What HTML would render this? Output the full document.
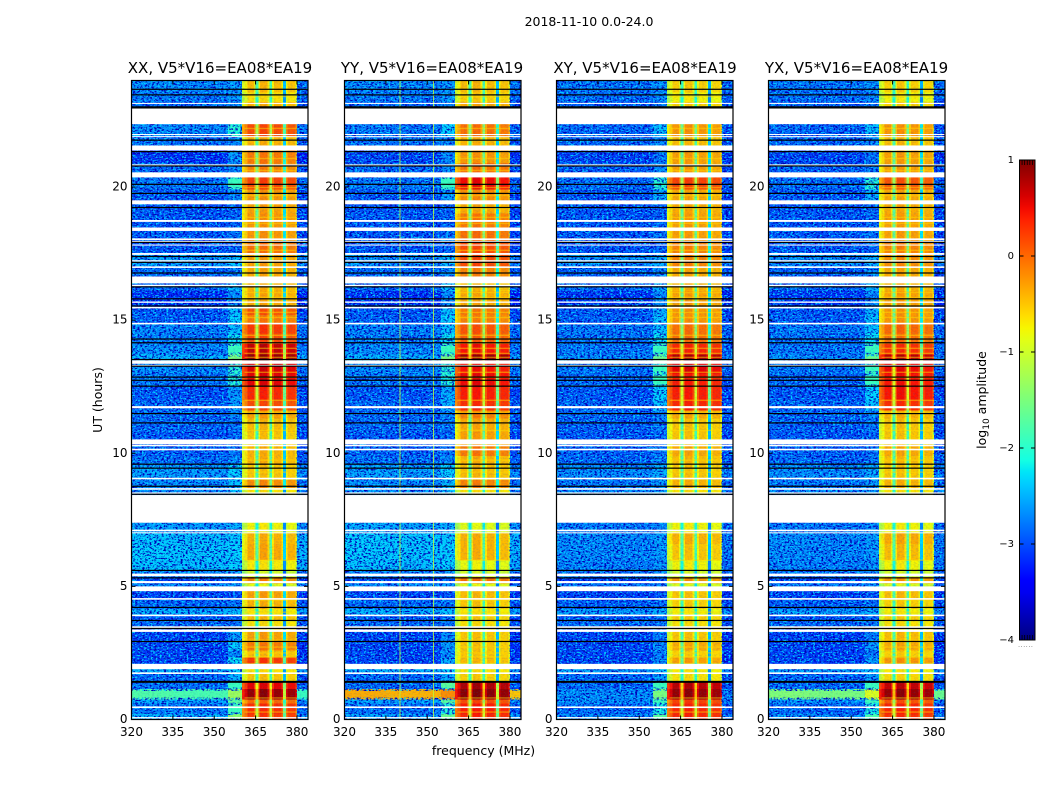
<!DOCTYPE html>
<html>
<head>
<meta charset="utf-8">
<title>2018-11-10 spectrogram</title>
<style>
html,body{margin:0;padding:0;background:#fff;}
svg{display:block;}
text{font-family:"DejaVu Sans","Liberation Sans",sans-serif;fill:#000;}
</style>
</head>
<body>
<svg id="chart" xmlns="http://www.w3.org/2000/svg" width="1050" height="800" viewBox="0 0 1050 800">
  <defs>
    <filter id="speckle-dark" x="0" y="0" width="1" height="1" color-interpolation-filters="sRGB">
      <feTurbulence type="fractalNoise" baseFrequency="0.42 0.62" numOctaves="2" seed="3"/>
      <feColorMatrix values="0 0 0 0 0  0 0 0 0 0  0 0 0 0 .72  6 0 0 0 -2.85"/>
    </filter>
    <filter id="speckle-light" x="0" y="0" width="1" height="1" color-interpolation-filters="sRGB">
      <feTurbulence type="fractalNoise" baseFrequency="0.45 0.65" numOctaves="2" seed="11"/>
      <feColorMatrix values="0 0 0 0 0  0 0 0 0 .8  0 0 0 0 1  6 0 0 0 -3.15"/>
    </filter>
    <linearGradient id="jet-gradient" x1="0" y1="1" x2="0" y2="0"></linearGradient>
  </defs>
  <text x="589" y="26" text-anchor="middle" font-size="12.5">2018-11-10 0.0-24.0</text>
  <text x="483.5" y="755" text-anchor="middle" font-size="12.5">frequency (MHz)</text>
  <text transform="translate(102 400) rotate(-90)" text-anchor="middle" font-size="12.5">UT (hours)</text>
  <g id="panels"></g>
  <g id="colorbar"></g>
  <text transform="translate(986 400) rotate(-90)" text-anchor="middle" font-size="12.5">log<tspan font-size="9" dy="3">10</tspan><tspan dy="-3"> amplitude</tspan></text>
</svg>
<script>
// ---- Axis data ----
const panelTitles = ["XX, V5*V16=EA08*EA19", "YY, V5*V16=EA08*EA19", "XY, V5*V16=EA08*EA19", "YX, V5*V16=EA08*EA19"];
const freqTicks = [320, 335, 350, 365, 380];
const hourTicks = [0, 5, 10, 15, 20];
const colorTicks = [1, 0, -1, -2, -3, -4];

// ---- Time rows (UT hours) ----
const rowEdges = [0,.2,.6,.75,1.15,1.42,1.72,1.9,2.1,2.32,2.6,2.9,3.3,3.45,3.7,3.95,4.15,4.53,4.82,5.1,5.35,5.6,6,6.6,7,7.39,8.43,8.7,9,9.55,9.9,10.3,10.8,11.3,11.6,12,12.5,13,13.4,13.7,14.1,14.5,14.9,15.2,15.5,16.1,16.4,17,17.5,18,18.5,19,19.4,19.9,20.4,20.9,21.4,21.9,22.3,22.4,22.95,23.2,23.55,24];

// ---- Frequency channels (MHz) ----
const channelEdges = [320,335,350,355,360,361,362,364.4,365,366,366.6,369.4,370,371,371.6,374.4,375,376,376.6,379.4,380,384];
const channelBand = ["low","low","low","trans","high","high","high","high","high","high","high","high","high","high","high","high","high","high","high","high","low"];
const channelOffset = [-.06,-.1,-.1,0,-.45,-.25,.05,-.25,-1.3,-.2,.1,-.2,-1.3,-.25,.05,-.25,-1.9,-.3,0,-.3,-.2];

// ---- log10 amplitude per row ----
const xxLow = [-2.4,-2.7,-2.5,-1.7,-2.75,-2.8,-2.4,-3,-3,-3,
-3,-3,-3,-2.8,-2.9,-2.4,-2.8,-3,-2.6,-3,
-2.6,-2.3,-2.25,-2.3,-2.5,-3,-2.6,-2.6,-2.5,-2.75,
-2.85,-2.9,-2.8,-2.8,-2.8,-2.9,-2.7,-2.6,-2.4,-2.6,
-2.7,-2.65,-2.85,-2.9,-3.1,-2.8,-2.8,-2.5,-2.9,-2.9,
-2.9,-2.9,-2.9,-2.7,-2.8,-3.1,-2.75,-2.6,-2.6,-3,
-2.8,-2.7,-2.6];
const xxTrans = [-1.4,-1.9,-1.7,-1.3,-1.9,-2.5,-2.3,-3,-2.2,-2.7,
-2.3,-2.6,-3,-2.8,-2.9,-2.4,-2.8,-3,-2.6,-3,
-2.6,-2.3,-2.3,-2.35,-2.5,-3,-2.4,-2.4,-2.3,-2.7,
-2.8,-2.9,-2.8,-2.7,-2.6,-2.6,-2,-2,-1.5,-1.9,
-2.2,-2.4,-2.3,-2.4,-2.7,-2.4,-2.7,-2.4,-2.9,-2.8,
-2.9,-2.9,-2.7,-1.9,-2.7,-2.6,-2.7,-2,-2,-3,
-2.7,-2.6,-2.6];
const xxHigh = [.2,.25,-.05,.85,.5,-.55,-.7,-1,.2,-.5,
-.15,-.35,-.6,-.7,-.5,-.75,-.45,-.35,-.9,-.2,
-1,-.75,-.4,-.45,-.8,-1,-.7,-.25,-.55,-.45,
-.45,-.55,-.5,-.35,.1,.3,.5,.55,.85,.65,
.1,.2,-.15,.05,-.4,-.45,-.4,-.35,-.1,-.3,
-.3,-.35,-.3,.15,-.2,-.15,-.45,.1,.1,-1,
-.45,-.7,-.5];

const yyLow = [-2.5,-2.75,-2.5,-.3,-2.8,-2.8,-2.4,-3,-3,-3,
-3,-3,-3,-2.8,-2.9,-2.4,-2.8,-3,-2.6,-3,
-2.6,-2.3,-2.25,-2.25,-2.45,-3,-2.6,-2.6,-2.5,-2.75,
-2.85,-2.9,-2.8,-2.8,-2.8,-2.9,-2.7,-2.6,-2.4,-2.6,
-2.7,-2.65,-2.85,-2.9,-3.1,-2.8,-2.8,-2.6,-2.9,-2.9,
-2.9,-2.9,-2.9,-2.7,-2.8,-3,-2.75,-2.7,-2.7,-3,
-2.8,-2.7,-2.6];
const yyTrans = [-1.6,-2,-1.7,-.2,-1.7,-2.5,-2.3,-3,-2.5,-2.7,
-2.6,-2.7,-3,-2.8,-2.9,-2.4,-2.8,-3,-2.6,-3,
-2.6,-2.3,-2.3,-2.35,-2.5,-3,-2.4,-2.4,-2.3,-2.7,
-2.8,-2.9,-2.8,-2.7,-2.5,-2.5,-2,-2,-1.5,-1.9,
-2.2,-2.4,-2.3,-2.4,-2.7,-2.4,-2.7,-2.4,-2.9,-2.8,
-2.9,-2.9,-2.6,-1.9,-2.7,-2.7,-2.7,-2.3,-2.3,-3,
-2.7,-2.6,-2.6];
const yyHigh = [.3,.35,.1,.9,.75,-.6,-.7,-1,-.5,-.55,
-.55,-.55,-.6,-.7,-.6,-.75,-.55,-.5,-.9,-.1,
-1,-.85,-.45,-.45,-.9,-1,-.7,-.2,-.5,-.45,
-.15,-.35,-.4,-.2,.25,.35,.45,.4,.85,.4,
0,.05,-.2,-.15,-.4,-.5,-.2,.1,.1,-.1,
-.15,-.4,-.25,.45,-.1,-.3,-.45,-.1,-.1,-1,
-.4,-.6,-.5];

const xyLow = [-2.6,-2.8,-2.6,-2.6,-2.8,-2.8,-2.5,-3,-3,-3,
-3,-3,-3,-2.8,-2.9,-2.5,-2.85,-3,-2.7,-3,
-2.7,-2.65,-2.6,-2.6,-2.7,-3,-2.6,-2.7,-2.6,-2.8,
-2.85,-2.9,-2.85,-2.8,-2.8,-2.9,-2.8,-2.7,-2.6,-2.7,
-2.75,-2.7,-2.85,-2.9,-3.05,-2.8,-2.85,-2.6,-2.9,-2.9,
-2.9,-2.9,-2.9,-2.75,-2.85,-3,-2.8,-2.8,-2.8,-3,
-2.85,-2.75,-2.7];
const xyTrans = [-1.7,-2.1,-1.9,-1.5,-1.9,-2.6,-2.4,-3,-2.7,-2.8,
-2.7,-2.8,-3,-2.8,-2.9,-2.5,-2.85,-3,-2.7,-3,
-2.7,-2.65,-2.6,-2.6,-2.7,-3,-2.6,-2.6,-2.5,-2.75,
-2.8,-2.9,-2.8,-2.7,-2.4,-2.3,-1.9,-1.9,-1.6,-1.9,
-2.2,-2.4,-2.4,-2.5,-2.7,-2.5,-2.7,-2.5,-2.9,-2.8,
-2.9,-2.9,-2.5,-2,-2.7,-2.8,-2.7,-2.4,-2.4,-3,
-2.75,-2.7,-2.65];
const xyHigh = [.3,.3,.15,.85,.7,-.7,-.75,-1,-.35,-.6,
-.4,-.55,-.65,-.7,-.6,-.8,-.6,-.55,-.95,-.3,
-1,-.8,-.55,-.45,-.8,-1,-.7,-.45,-.55,-.5,
-.4,-.55,-.55,-.4,.3,.35,.35,.5,.75,.3,
-.1,-.1,-.3,-.3,-.35,-.45,-.4,-.2,-.2,-.35,
-.35,-.4,-.4,.15,-.35,-.35,-.5,-.3,-.3,-1,
-.6,-.8,-.6];

const yxLow = [-2.6,-2.8,-2.6,-1.4,-2.8,-2.8,-2.5,-3,-3,-3,
-3,-3,-3,-2.8,-2.9,-2.5,-2.85,-3,-2.7,-3,
-2.7,-2.65,-2.6,-2.6,-2.7,-3,-2.6,-2.7,-2.6,-2.8,
-2.85,-2.9,-2.85,-2.8,-2.8,-2.9,-2.8,-2.7,-2.6,-2.7,
-2.75,-2.7,-2.85,-2.9,-3.05,-2.8,-2.85,-2.6,-2.9,-2.9,
-2.9,-2.9,-2.9,-2.75,-2.85,-3,-2.8,-2.8,-2.8,-3,
-2.85,-2.75,-2.7];
const yxTrans = [-1.8,-2.1,-1.9,-.9,-1.9,-2.6,-2.4,-3,-2.6,-2.8,
-2.6,-2.8,-3,-2.8,-2.9,-2.5,-2.85,-3,-2.7,-3,
-2.7,-2.65,-2.6,-2.6,-2.7,-3,-2.6,-2.6,-2.5,-2.75,
-2.8,-2.9,-2.8,-2.7,-2.4,-2.3,-1.9,-1.9,-1.6,-1.9,
-2.2,-2.4,-2.4,-2.5,-2.7,-2.5,-2.7,-2.5,-2.9,-2.8,
-2.9,-2.9,-2.5,-2,-2.7,-2.8,-2.7,-2.4,-2.4,-3,
-2.75,-2.7,-2.65];
const yxHigh = [.25,.3,.05,.85,.65,-.65,-.75,-1,-.3,-.6,
-.4,-.5,-.65,-.7,-.6,-.8,-.6,-.5,-.95,-.3,
-1,-.8,-.5,-.4,-.8,-1,-.7,-.45,-.55,-.5,
-.4,-.55,-.55,-.45,.25,.4,.4,.45,.7,.25,
-.1,-.05,-.3,-.3,-.35,-.45,-.4,-.25,-.2,-.35,
-.35,-.4,-.4,.05,-.35,-.35,-.5,-.3,-.3,-1,
-.6,-.8,-.6];

// ---- Flagged (blank) and zero-amplitude (black) time ranges, UT hours ----
const flaggedStart = [.04,.43,1.71,1.89,3.29,3.43,3.88,4.5,4.82,5.12,5.38,7,7.07,7.39,8.48,8.63,9.02,10.11,10.26,10.34,11.69,13.27,13.36,14.84,15.44,15.65,16.27,16.38,16.96,17.2,17.45,17.8,17.93,18.01,18.35,18.69,19.35,20.36,20.8,21.37,21.87,21.95,22.36,23.12];
const flaggedEnd = [.09,.49,1.77,2.09,3.38,3.5,3.94,4.56,5,5.2,5.48,7.03,7.13,8.43,8.53,8.69,9.08,10.17,10.32,10.52,11.77,13.32,13.49,14.9,15.5,15.7,16.33,16.64,17.02,17.25,17.52,17.84,17.98,18.07,18.48,18.76,19.5,20.55,20.85,21.56,21.91,21.99,22.95,23.16];
const blackHours = [1.4,1.43,2.93,3.42,3.72,4.21,5.32,5.6,8.46,8.76,9.44,9.59,11.14,11.49,12.52,12.74,12.86,13.27,13.52,14.15,14.29,15.53,15.8,16.25,16.77,17.17,17.39,17.92,19.23,19.76,20.1,20.79,21.33,21.76,22.97,23.01,23.46,23.67];

// ---- Times where the high band dips to yellow across all channels ----
const dipHours = [.28,.81,2.35,2.5,2.72,2.98,4.03,4.48,5.98,9.29,9.74,10.86,11.54,11.99,12.85,13.04,13.6,13.75,13.94,14.43,15.1,15.29,15.48,15.85,16.04,17.62,18.63,18.86,19.19,19.68,19.98,20.62,21.07,21.75,22.2,23.4];

// ---- Narrow interference channels in YY ----
const yyRfiFreqs = [340, 352];
const yyRfiLevel = -1.1;

const panelLow = [xxLow, yyLow, xyLow, yxLow];
const panelTrans = [xxTrans, yyTrans, xyTrans, yxTrans];
const panelHigh = [xxHigh, yyHigh, xyHigh, yxHigh];

// ---- Scales ----
const NS = "http://www.w3.org/2000/svg";
const panelLeft = [131.5, 344.5, 556.5, 768.5];
const panelWidth = 176.5;
const titleCenter = [220, 432, 645, 856.5];
const plotTop = 80.5, plotBottom = 719.5;
function xScale(p, f) { return panelLeft[p] + (f - 320) * panelWidth / 64; }
function yScale(h) { return plotBottom - h * (plotBottom - plotTop) / 24; }
function cScale(v) { return 640 - (v + 4) * 96; }
function interp(pts, t) {
  for (let i = 1; i < pts.length; i++) {
    if (t <= pts[i][0]) {
      const a = pts[i - 1], b = pts[i];
      return a[1] + (b[1] - a[1]) * (t - a[0]) / (b[0] - a[0]);
    }
  }
  return pts[pts.length - 1][1];
}
const jetR = [[0,0],[.35,0],[.66,1],[.89,1],[1,.5]];
const jetG = [[0,0],[.125,0],[.375,1],[.64,1],[.91,0],[1,0]];
const jetB = [[0,.5],[.11,1],[.34,1],[.65,0],[1,0]];
function jet(t) {
  t = Math.max(0, Math.min(1, t));
  return "rgb(" + Math.round(255 * interp(jetR, t)) + "," + Math.round(255 * interp(jetG, t)) + "," + Math.round(255 * interp(jetB, t)) + ")";
}
function colorOf(v) { return jet((v + 4) / 5); }
function mk(tag, attrs, parent) {
  const el = document.createElementNS(NS, tag);
  for (const k in attrs) el.setAttribute(k, attrs[k]);
  parent.appendChild(el);
  return el;
}

const root = document.getElementById("panels");
panelTitles.forEach(function (title, p) {
  const g = mk("g", {}, root);
  
  
  const series = { low: panelLow[p], trans: panelTrans[p], high: panelHigh[p] };

  // heatmap cells
  for (let r = 0; r < rowEdges.length - 1; r++) {
    for (let c = 0; c < channelEdges.length - 1; c++) {
      const x0 = xScale(p, channelEdges[c]), x1 = xScale(p, channelEdges[c + 1]);
      const y0 = yScale(rowEdges[r + 1]), y1 = yScale(rowEdges[r]);
      const v = series[channelBand[c]][r] + channelOffset[c];
      const cell = mk("rect", { x: x0, y: y0, width: x1 - x0, height: y1 - y0, fill: colorOf(v), "shape-rendering": "crispEdges" }, g);
      
      
    }
  }

  // channel speckle texture
  [[320, 355, 1], [355, 360, 0.9], [360, 380, 0.08], [380, 384, 1]].forEach(function (seg) {
    ["speckle-dark", "speckle-light"].forEach(function (f) {
      const sp = mk("rect", { x: xScale(p, seg[0]), y: plotTop, width: xScale(p, seg[1]) - xScale(p, seg[0]), height: plotBottom - plotTop, filter: "url(#" + f + ")", opacity: seg[2] }, g);
      
      
    });
  });

  // bright out-of-band rows sit above the speckle
  for (let r = 0; r < rowEdges.length - 1; r++) {
    for (let c = 0; c < channelEdges.length - 1; c++) {
      if (channelBand[c] === "high") continue;
      const v = series[channelBand[c]][r] + channelOffset[c];
      if (v <= -1.95) continue;
      const x0 = xScale(p, channelEdges[c]), x1 = xScale(p, channelEdges[c + 1]);
      const y0 = yScale(rowEdges[r + 1]), y1 = yScale(rowEdges[r]);
      const cell = mk("rect", { x: x0, y: y0 + (y1 - y0) * 0.2, width: x1 - x0, height: (y1 - y0) * 0.6, fill: colorOf(v), opacity: 0.9, "shape-rendering": "crispEdges" }, g);
      
      
    }
  }

  // yellow dips across the high band
  dipHours.forEach(function (h) {
    const dip = mk("rect", { x: xScale(p, 361), y: yScale(h) - 0.7, width: xScale(p, 380) - xScale(p, 361), height: 1.4, fill: "#ffd800", opacity: 0.5 }, g);
    
    
  });

  // interference lines in YY
  if (p === 1) {
    yyRfiFreqs.forEach(function (f) {
      const line = mk("rect", { x: xScale(p, f), y: plotTop, width: 1, height: plotBottom - plotTop, fill: colorOf(yyRfiLevel), opacity: 0.8, "shape-rendering": "crispEdges" }, g);
      
      
    });
  }

  // flagged rows
  flaggedStart.forEach(function (s, i) {
    const y0 = yScale(flaggedEnd[i]), y1 = yScale(s);
    const band = mk("rect", { x: panelLeft[p], y: y0, width: panelWidth, height: Math.max(1, y1 - y0), fill: "#fff" }, g);
    
    
  });

  // black rows
  blackHours.forEach(function (h) {
    const line = mk("rect", { x: panelLeft[p], y: yScale(h) - 0.6, width: panelWidth, height: 1.2, fill: "#000" }, g);
    
    
  });

  // frame
  const frame = mk("rect", { x: panelLeft[p], y: plotTop, width: panelWidth, height: plotBottom - plotTop, fill: "none", stroke: "#000", "stroke-width": 1.2 }, g);
  
  

  // title
  const t = mk("text", { x: titleCenter[p], y: 73, "text-anchor": "middle", "font-size": 15 }, g);
  t.textContent = title;
  
  

  // x ticks
  freqTicks.forEach(function (f) {
    const x = xScale(p, f);
    mk("path", { d: "M" + x + " " + plotBottom + "v-4M" + x + " " + plotTop + "v4", stroke: "#000", "stroke-width": 1, fill: "none" }, g);
    const lab = mk("text", { x: x, y: 736, "text-anchor": "middle", "font-size": 12 }, g);
    lab.textContent = f;
    
    
  });

  // y ticks
  hourTicks.forEach(function (h) {
    const y = yScale(h);
    mk("path", { d: "M" + panelLeft[p] + " " + y + "h4M" + (panelLeft[p] + panelWidth) + " " + y + "h-4", stroke: "#000", "stroke-width": 1, fill: "none" }, g);
    const lab = mk("text", { x: panelLeft[p] - 4, y: y + 3.5, "text-anchor": "end", "font-size": 12 }, g);
    lab.textContent = h;
    
    
  });
});

// ---- Colorbar ----
const grad = document.getElementById("jet-gradient");
for (let i = 0; i <= 40; i++) {
  mk("stop", { offset: (i / 40), "stop-color": jet(i / 40) }, grad);
}
const cb = document.getElementById("colorbar");
const cbX = 1019.5, cbW = 15.5;
const cbBar = mk("rect", { x: cbX, y: cScale(1), width: cbW, height: cScale(-4) - cScale(1), fill: "url(#jet-gradient)", stroke: "#000", "stroke-width": 1 }, cb);


colorTicks.forEach(function (v) {
  const y = cScale(v);
  mk("path", { d: "M" + cbX + " " + y + "h4M" + (cbX + cbW) + " " + y + "h-4", stroke: "#000", "stroke-width": 1, fill: "none" }, cb);
  const lab = mk("text", { x: 1014, y: y + 3, "text-anchor": "end", "font-size": 10 }, cb);
  lab.textContent = v < 0 ? "\u2212" + Math.abs(v) : String(v);
  
  
});
for (let i = 1; i < 6; i++) {
  const tx = cbX + i * cbW / 6;
  mk("path", { d: "M" + tx + " " + cScale(-4) + "v-5M" + tx + " " + cScale(1) + "v5", stroke: "#000", "stroke-width": 0.8, fill: "none" }, cb);
}
const dots = mk("text", { x: 1026, y: 647, "text-anchor": "middle", "font-size": 5, fill: "#777", "letter-spacing": "1" }, cb);
dots.textContent = "......";


</script>
</body>
</html>
